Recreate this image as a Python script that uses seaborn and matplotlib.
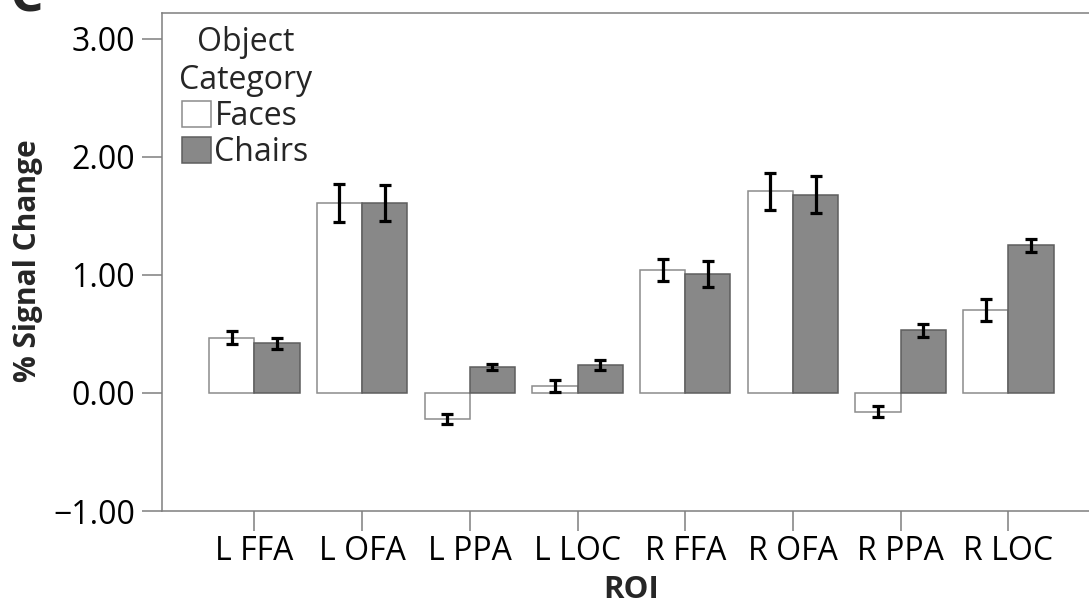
import matplotlib
matplotlib.use("Agg")
import matplotlib.pyplot as plt
import numpy as np
import pandas as pd
import seaborn as sns

# ROI-wise percent signal change for the two object categories
rois = ["L FFA", "L OFA", "L PPA", "L LOC", "R FFA", "R OFA", "R PPA", "R LOC"]
categories = ["Faces", "Chairs"]
faces_mean = [0.47, 1.61, -0.22, 0.06, 1.04, 1.71, -0.16, 0.70]
faces_err = [0.058, 0.157, 0.040, 0.050, 0.095, 0.157, 0.047, 0.093]
chairs_mean = [0.42, 1.61, 0.22, 0.24, 1.01, 1.68, 0.53, 1.25]
chairs_err = [0.045, 0.150, 0.024, 0.042, 0.108, 0.155, 0.055, 0.054]
y_ticks = [-1.0, 0.0, 1.0, 2.0, 3.0]
y_tick_labels = ["\u22121.00", "0.00", "1.00", "2.00", "3.00"]

df = pd.DataFrame({
    "ROI": rois * 2,
    "Object Category": ["Faces"] * len(rois) + ["Chairs"] * len(rois),
    "Signal": faces_mean + chairs_mean,
})

sns.set_theme(style="white")
plt.rcParams["font.family"] = ["Open Sans", "DejaVu Sans"]

W, H = 1089, 605
fig = plt.figure(figsize=(W / 100, H / 100), dpi=100)
ax = fig.add_axes([162 / W, 1 - 511 / H, (1100 - 162) / W, (511 - 13) / H])

fill = {"Faces": "white", "Chairs": "#888888"}
edge = {"Faces": "#8c8c8c", "Chairs": "#5e5e5e"}

sns.barplot(data=df, x="ROI", y="Signal", hue="Object Category",
            order=rois, hue_order=categories, palette=fill,
            width=0.84, errorbar=None, linewidth=1.1, ax=ax)

means = {"Faces": faces_mean, "Chairs": chairs_mean}
errs = {"Faces": faces_err, "Chairs": chairs_err}
for cat, cont in zip(categories, ax.containers):
    for bar in cont:
        bar.set_edgecolor(edge[cat])
    xs = [b.get_x() + b.get_width() / 2 for b in cont]
    ax.errorbar(xs, means[cat], yerr=errs[cat], fmt="none", ecolor="black",
                elinewidth=2.3, capsize=4.6, capthick=2.3, zorder=5)

ax.set_ylim(-1.0, 3.22)
ax.set_xlim(-0.857, 7.85)
ax.set_yticks(y_ticks)
ax.set_yticklabels(y_tick_labels)

spine_color = "#7f7f7f"
for side in ["left", "top", "bottom", "right"]:
    ax.spines[side].set_color(spine_color)
    ax.spines[side].set_linewidth(1.1)
ax.tick_params(axis="both", which="major", direction="out", length=14.5,
               width=1.1, color=spine_color, labelsize=23, labelcolor="black",
               left=True, bottom=True)
ax.tick_params(axis="y", pad=5)
ax.tick_params(axis="x", pad=3)

ax.set_ylabel("% Signal Change", fontsize=21.5, fontweight="bold")
ax.yaxis.set_label_coords((43 - 162) / 938, (511 - 261) / 498)
ax.set_xlabel("ROI", fontsize=22.5, fontweight="bold")
ax.xaxis.set_label_coords(0.5, (511 - 575) / 498)

handles, labels = ax.get_legend_handles_labels()
for h, lab in zip(handles, labels):
    h.set_edgecolor(edge[lab])
    h.set_linewidth(1.1)
leg = ax.legend(handles, labels, title="Object\nCategory",
                loc="upper left", bbox_to_anchor=(179 / W, 1 - 26 / H),
                bbox_transform=fig.transFigure, frameon=False,
                borderpad=0, borderaxespad=0, handlelength=0.88,
                handleheight=0.86, handletextpad=0.12, labelspacing=0.1,
                fontsize=23, title_fontsize=23)
leg.get_title().set_multialignment("center")

# Panel letter
fig.text(10 / W, 1 - 12 / H, "C", fontsize=38, fontweight="bold",
         va="baseline", ha="left")

fig.savefig("out.png", dpi=100)
